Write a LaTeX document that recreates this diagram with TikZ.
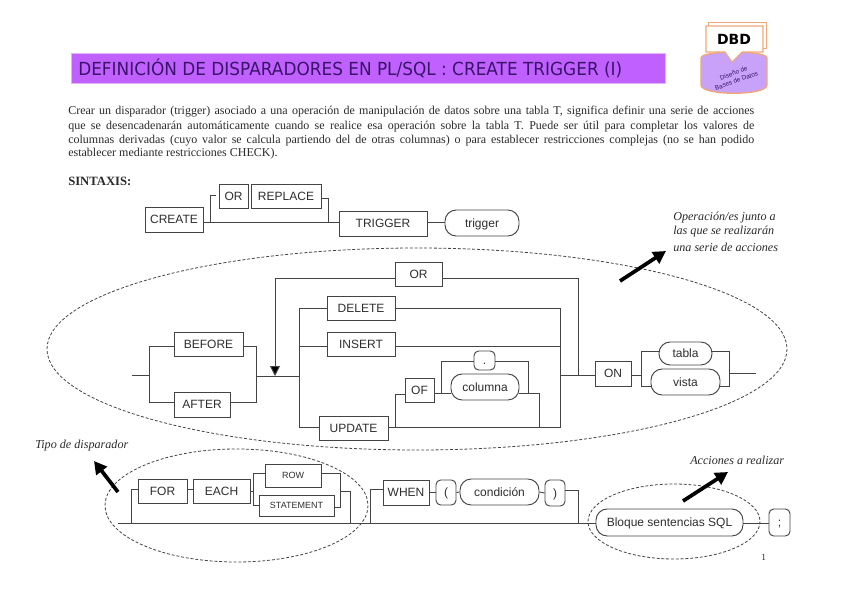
\documentclass[tikz,border=0pt]{standalone}
\usepackage{fontspec}
\usepackage{graphicx}
\setmainfont{Liberation Serif}
\newfontfamily\arialf{Liberation Sans}
\newfontfamily\titlef{DejaVu Sans}
\usetikzlibrary{arrows.meta,calc}
\definecolor{ink}{HTML}{444444}
\definecolor{textink}{HTML}{2E2E2E}
\definecolor{bodyink}{HTML}{2A2A2A}
\definecolor{lila}{HTML}{C060FF}
\definecolor{lilaedge}{HTML}{E4B4F4}
\definecolor{titleink}{HTML}{3A1468}
\definecolor{logofill}{HTML}{C8A2F8}
\definecolor{logoedge}{HTML}{F0A878}
\tikzset{
  plainbox/.style={draw=ink,line width=.7pt,rectangle,inner sep=0pt,font=\arialf\fontsize{9}{9}\selectfont,text=textink,text height=6.6pt,text depth=0pt,align=center},
  smallbox/.style={plainbox,font=\arialf\fontsize{6.75}{7}\selectfont,text height=5pt},
  pill/.style={plainbox,rounded corners=8.4pt},
  punct/.style={plainbox,rounded corners=3.5pt},
  wire/.style={draw=ink,line width=.7pt},
  arrowwire/.style={wire,-{Triangle[length=7.5pt,width=7.5pt,fill=black]}},
  bigarrow/.style={draw=black,line width=2.8pt,-{Triangle[length=9.5pt,width=10pt,fill=black]}},
  zone/.style={draw=ink,line width=.6pt,dash pattern=on 2.2pt off 1.4pt},
  para/.style={anchor=west,inner sep=0pt,text=bodyink,font=\fontsize{9}{11}\selectfont},
  note/.style={anchor=west,inner sep=0pt,text=bodyink,font=\itshape\fontsize{9.1}{10}\selectfont},
}
\newcommand{\bx}[7][plainbox]{%
  \node[#1,minimum width={(#5-#3)*.75pt},minimum height={(#6-#4)*.75pt}] (#2) at ({(#3+#5)/2},{(#4+#6)/2}) {#7};}
\begin{document}
\begin{tikzpicture}[x=.75pt,y=-.75pt]
\useasboundingbox (0,0) rectangle (848,599);
\fill[white] (0,0) rectangle (848,599);

% title
\node[draw=lilaedge,line width=.6pt,fill=lila,minimum width=446pt,minimum height=23pt,inner sep=0pt] (titlebar) at (368.5,68.5) {};
\node[anchor=west,inner sep=0pt,text=titleink] (titletext) at (78,68.5) {\resizebox{408pt}{\height}{\titlef\fontsize{13.5}{14}\selectfont DEFINICIÓN DE DISPARADORES EN PL/SQL : CREATE TRIGGER (I)}};

% logo
\draw[fill=logofill,draw=logoedge,line width=1pt] (701,58) -- (701,85) .. controls (701,96) and (767,96) .. (767,85) -- (767,58) .. controls (767,50) and (701,50) .. (701,58) -- cycle;
\draw[fill=white,draw=logoedge,line width=.7pt] (708,22) rectangle (766,48);
\draw[fill=white,draw=logoedge,line width=.8pt] (706,26) -- (763,26) -- (763,52) -- (742,52) -- (732,62) -- (725,52) -- (706,52) -- cycle;
\node[inner sep=0pt,font=\titlef\bfseries\fontsize{10.5}{11}\selectfont] (dbd) at (734,39) {DBD};
\node[inner sep=0pt,rotate=20,align=center,text=titleink,font=\arialf\fontsize{4.8}{6}\selectfont] (dbdsub) at (735,77) {Diseño de\\Bases de Datos};

% paragraph
\node[para] (l1) at (68,112) {\makebox[514.5pt][s]{Crear un disparador (trigger) asociado a una operación de manipulación de datos sobre una tabla T, significa definir una serie de acciones}};
\node[para] (l2) at (68,127) {\makebox[514.5pt][s]{que se desencadenarán automáticamente cuando se realice esa operación sobre la tabla T. Puede ser útil para completar los valores de}};
\node[para] (l3) at (68,141) {\makebox[514.5pt][s]{columnas derivadas (cuyo valor se calcula partiendo del de otras columnas) o para establecer restricciones complejas (no se han podido}};
\node[para] (l4) at (68,154) {establecer mediante restricciones CHECK).};
\node[para,font=\bfseries\fontsize{9.5}{11}\selectfont] (sintaxis) at (68,181) {SINTAXIS:};

% notes
\node[note] (n1) at (673,218) {Operación/es junto a};
\node[note] (n2) at (673,232) {las que se realizarán};
\node[note] (n3) at (673,247) {una serie de acciones};
\node[note] (n4) at (35,446) {Tipo de disparador};
\node[note] (n5) at (690,460) {Acciones a realizar};
\node[para,font=\fontsize{7}{8}\selectfont] (pageno) at (761,557) {1};

% line 1 boxes
\bx{create}{145}{207}{203}{232}{CREATE}
\bx{orA}{219}{184}{248}{208}{OR}
\bx{replace}{251}{184}{321}{208}{REPLACE}
\bx{trig}{339}{211}{427}{236}{TRIGGER}
\bx[pill]{trigname}{445}{210}{519}{236}{trigger}
\coordinate (m1) at (210,222); \coordinate (m2) at (328,222);
\coordinate (up1) at (210,195); \coordinate (up1e) at (216,195);
\coordinate (up2) at (328,198);
\draw[wire] (m1 -| create.east) -- (m1 -| trig.west);
\draw[wire] (m1) -- (up1) -- (up1e);
\draw[wire] (up2 -| replace.east) -- (up2) -- (m2);
\draw[wire] (m1 -| trig.east) -- (m1 -| trigname.west);

% zones
\draw[zone] (417,349) ellipse [x radius=370,y radius=101];
\draw[zone] (236.5,505.5) ellipse [x radius=131.5,y radius=56.5];
\draw[zone] (674,521.5) ellipse [x radius=86,y radius=37.5];

% line 2 boxes
\bx{before}{174}{332}{243}{356}{BEFORE}
\bx{after}{174}{392}{230}{417}{AFTER}
\bx{orB}{395}{262}{442}{286}{OR}
\bx{delete}{327}{296}{395}{320}{DELETE}
\bx{insert}{327}{332}{395}{356}{INSERT}
\bx{update}{319}{416}{388}{440}{UPDATE}
\bx{of}{405}{378}{434}{402}{OF}
\bx[pill]{columna}{451}{374}{519}{400}{columna}
\bx[punct]{dot}{474}{351}{495}{370}{.}
\bx{on}{595}{361}{631}{386}{ON}
\bx[pill]{tabla}{659}{342}{712}{365}{tabla}
\bx[pill]{vista}{651}{369}{720}{395}{vista}

\coordinate (start) at (132,375);
\coordinate (a1) at (149,375); \coordinate (a1t) at (149,346); \coordinate (a1b) at (149,402);
\coordinate (a2) at (256,376); \coordinate (a2t) at (256,346); \coordinate (a2b) at (256,402);
\coordinate (b1) at (299,376); \coordinate (b1t) at (299,308); \coordinate (b1m) at (299,346); \coordinate (b1b) at (299,427);
\coordinate (b2t) at (560,308); \coordinate (b2m) at (560,346); \coordinate (b2) at (560,375); \coordinate (b2b) at (560,427);
\coordinate (loopt) at (275,278); \coordinate (loopb) at (275,376);
\coordinate (loopr) at (578,278); \coordinate (looprb) at (578,375);
\coordinate (ofj) at (395,427); \coordinate (ofjt) at (395,394);
\coordinate (c1) at (441,393); \coordinate (c1t) at (441,361);
\coordinate (c2) at (528,393); \coordinate (c2t) at (528,361);
\coordinate (c3) at (539,393); \coordinate (c3b) at (539,427);
\coordinate (d1) at (641,375); \coordinate (d1t) at (641,351); \coordinate (d1b) at (641,386);
\coordinate (d2t) at (729,351); \coordinate (d2b) at (729,386); \coordinate (d2) at (729,373); \coordinate (finish) at (756,373);

\draw[wire] (start) -- (a1);
\draw[wire] (a1t -| before.west) -- (a1t) -- (a1b) -- (a1b -| after.west);
\draw[wire] (a2t -| before.east) -- (a2t) -- (a2b) -- (a2b -| after.east);
\draw[wire] (a2) -- (b1);
\draw[wire] (b1t -| delete.west) -- (b1t) -- (b1b) -- (b1b -| update.west);
\draw[wire] (b1m) -- (b1m -| insert.west);
\draw[wire] (b2t -| delete.east) -- (b2t) -- (b2b) -- (b2b -| update.east);
\draw[wire] (b2m -| insert.east) -- (b2m);
\draw[wire] (b2) -- (b2 -| on.west);
\draw[arrowwire] (loopt) -- (loopb);
\draw[wire] (loopt) -- (loopt -| orB.west);
\draw[wire] (loopr -| orB.east) -- (loopr) -- (looprb);
\draw[wire] (ofj) -- (ofjt) -- (ofjt -| of.west);
\draw[wire] (c1 -| of.east) -- (c1 -| columna.west);
\draw[wire] (c1) -- (c1t) -- (c1t -| dot.west);
\draw[wire] (c2t -| dot.east) -- (c2t) -- (c2);
\draw[wire] (c3 -| columna.east) -- (c3) -- (c3b);
\draw[wire] (d1 -| on.east) -- (d1);
\draw[wire] (d1t -| tabla.west) -- (d1t) -- (d1b) -- (d1b -| vista.west);
\draw[wire] (d2t -| tabla.east) -- (d2t) -- (d2b) -- (d2b -| vista.east);
\draw[wire] (d2) -- (finish);

% line 3 boxes
\bx{for}{138}{479}{187}{503}{FOR}
\bx{each}{193}{479}{250}{503}{EACH}
\bx[smallbox]{row}{265}{464}{321}{487}{ROW}
\bx[smallbox]{statement}{259}{495}{334}{516}{STATEMENT}
\bx{when}{383}{480}{429}{505}{WHEN}
\bx[punct]{lpar}{436}{480}{456}{505}{(}
\bx[pill]{cond}{460}{479}{539}{505}{condición}
\bx[punct]{rpar}{545}{480}{565}{506}{)}
\bx[pill]{bloque}{596}{509}{743}{536}{Bloque sentencias SQL}
\bx[punct]{semi}{769}{509}{790}{536}{;}

\coordinate (e0) at (118,523.5); \coordinate (e1) at (131,523.5); \coordinate (e1t) at (131,489);
\coordinate (f1) at (253,491); \coordinate (f1t) at (253,473); \coordinate (f1b) at (253,505);
\coordinate (f2) at (340,491); \coordinate (f2t) at (340,473); \coordinate (f2b) at (340,507);
\coordinate (g1t) at (350,491); \coordinate (g1b) at (350,523.5);
\coordinate (h1) at (370,523.5); \coordinate (h1t) at (370,489);
\coordinate (h2t) at (578,490); \coordinate (h2b) at (578,523.5);
\coordinate (i1) at (596,523.5); \coordinate (i2) at (769,523.5);

\draw[wire] (e0) -- (e1 -| bloque.west);
\draw[wire] (e1) -- (e1t) -- (e1t -| for.west);
\draw[wire] (e1t -| for.east) -- (e1t -| each.west);
\draw[wire] (f1 -| each.east) -- (f1);
\draw[wire] (f1t -| row.west) -- (f1t) -- (f1b) -- (f1b -| statement.west);
\draw[wire] (f2t -| row.east) -- (f2t) -- (f2b) -- (f2b -| statement.east);
\draw[wire] (f2) -- (g1t) -- (g1b);
\draw[wire] (h1) -- (h1t) -- (h1t -| when.west);
\draw[wire] (when.east) -- (lpar.west);
\draw[wire] (lpar.east) -- (cond.west);
\draw[wire] (cond.east) -- (rpar.west);
\draw[wire] (h2t -| rpar.east) -- (h2t) -- (h2b);
\draw[wire] (i1 -| bloque.east) -- (i2 -| semi.west);

% comment arrows
\coordinate (ar1s) at (620,281); \coordinate (ar1e) at (666,251);
\coordinate (ar2s) at (118,492); \coordinate (ar2e) at (94,461);
\coordinate (ar3s) at (683,501); \coordinate (ar3e) at (728,472);
\draw[bigarrow] (ar1s) -- (ar1e);
\draw[bigarrow] (ar2s) -- (ar2e);
\draw[bigarrow] (ar3s) -- (ar3e);
\end{tikzpicture}
\end{document}
